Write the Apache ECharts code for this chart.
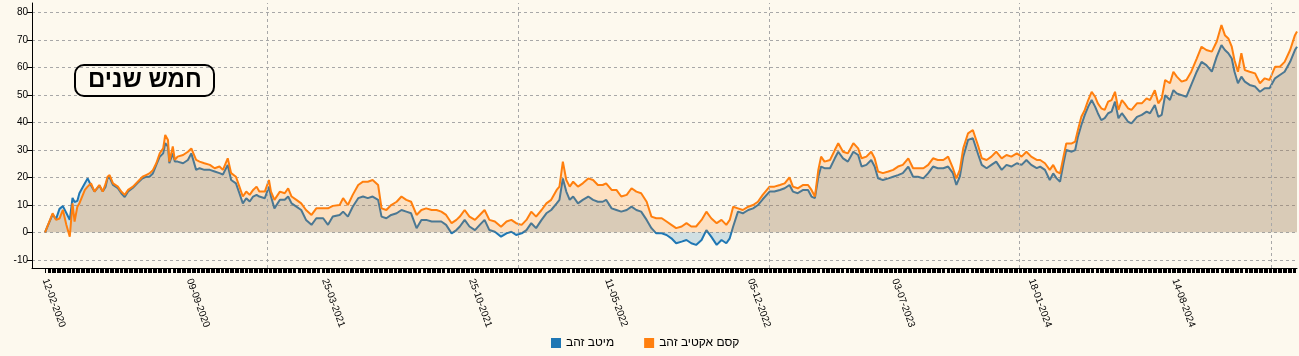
<!DOCTYPE html>
<html>
<head>
<meta charset="utf-8">
<script src="https://cdn.jsdelivr.net/npm/echarts@6/dist/echarts.min.js"></script>
<style>
html,body{margin:0;padding:0;background:#fdf9ee;}
#c{width:1299px;height:356px;}
</style>
</head>
<body>
<div id="c"></div>
<script>
// ---- data ----
const startDate = [2020, 2, 12]; // 12-02-2020
const dayOffsets = [
0,11,16,21,26,31,36,40,43,47,
50,58,62,67,72,79,84,88,91,94,
99,106,111,116,121,128,135,142,147,152,
157,162,167,172,175,179,181,186,189,193,
201,208,213,220,225,232,240,247,254,259,
266,271,278,283,288,293,298,303,308,312,
320,326,329,334,342,349,354,359,366,373,
380,388,395,405,412,419,429,434,441,448,
456,463,470,477,485,490,497,504,512,519,
526,533,541,548,555,563,570,577,584,592,
599,604,611,618,626,633,640,647,655,664,
672,679,686,694,701,708,715,723,730,737,
745,749,754,759,764,769,776,783,791,798,
805,812,817,825,832,839,847,854,861,868,
876,883,890,898,905,912,919,927,934,941,
948,956,963,970,978,985,992,997,1002,1009,
1016,1024,1031,1038,1045,1055,1062,1070,1077,1084,
1089,1096,1104,1111,1116,1121,1126,1130,1135,1143,
1150,1155,1162,1169,1177,1184,1189,1196,1203,1208,
1213,1220,1228,1235,1242,1249,1257,1264,1271,1279,
1286,1293,1300,1308,1315,1322,1327,1332,1337,1344,
1351,1359,1364,1371,1378,1385,1393,1400,1407,1415,
1422,1429,1436,1444,1449,1456,1463,1468,1473,1478,
1483,1487,1495,1500,1504,1509,1514,1519,1524,1529,
1533,1538,1543,1548,1553,1558,1563,1568,1572,1577,
1582,1590,1597,1604,1609,1616,1621,1626,1631,1638,
1643,1648,1655,1662,1669,1677,1684,1691,1699,1706,
1713,1718,1723,1728,1732,1737,1742,1747,1754,1762,
1769,1776,1783,1791,1798,1805,1813,1820,1823
];
const kesemValues = [
0,6.9,4.5,5.0,8.1,2.7,-1.6,10.5,3.9,9.3,
10.5,15.4,16.6,17.8,14.8,17.2,14.8,17.5,20.2,20.8,
17.8,16.6,14.8,13.6,15.4,16.6,18.4,20.2,20.8,21.4,
22.6,25.1,28.7,30.5,35.4,33.6,25.7,31.2,26.3,27.5,
28.1,29.3,30.5,26.3,25.7,25.1,24.5,23.3,23.9,22.7,
26.9,21.5,20.2,16.6,13.0,14.8,13.6,15.4,16.6,14.8,
14.8,19.0,14.8,11.8,14.8,14.2,16.0,13.0,11.8,10.5,
8.1,6.3,8.7,8.7,8.7,9.6,9.9,12.4,9.9,13.6,
17.2,18.4,18.4,19.0,17.2,8.7,8.1,9.9,11.1,13.0,
11.8,11.1,6.3,8.1,8.7,8.1,8.1,7.5,6.3,3.3,
4.5,5.7,8.1,5.7,4.5,6.3,8.1,4.5,3.9,2.0,
3.9,4.5,3.3,2.7,4.5,7.5,5.7,8.1,10.5,11.8,
15.4,16.6,25.7,19.0,16.6,18.4,16.6,17.8,19.6,19.0,
17.2,17.2,17.8,15.4,15.4,13.0,13.6,16.0,14.8,14.2,
11.1,5.7,5.1,5.1,3.9,2.7,1.5,2.1,3.3,2.1,
2.1,4.5,7.5,5.1,3.3,4.5,2.7,4.5,9.3,8.7,
8.1,9.3,9.9,11.1,13.6,16.6,16.6,17.2,17.8,20.0,
16.6,16.0,17.2,17.2,15.4,13.0,22.7,27.5,25.7,26.3,
29.9,32.4,29.3,28.7,32.4,30.5,26.9,27.5,29.3,26.9,
22.1,21.5,22.1,22.7,23.9,24.5,26.9,23.3,23.3,23.3,
24.5,26.9,26.3,26.3,27.5,23.3,19.6,22.7,30.5,36.0,
37.2,31.2,26.9,26.3,27.5,29.3,26.9,28.1,27.5,28.7,
27.5,29.3,27.5,26.3,26.3,25.1,22.7,24.5,22.1,21.4,
27.5,32.3,32.3,33.0,37.2,42.0,44.5,48.1,51.1,49.3,
46.9,45.1,44.5,47.5,48.1,51.1,44.5,48.1,46.9,45.1,
44.5,46.9,46.9,48.7,48.1,51.7,46.9,48.7,55.4,54.2,
58.4,56.6,54.8,55.4,58.4,63.2,67.5,66.3,65.7,69.3,
75.4,71.7,70.5,67.5,62.6,58.4,65.1,59.0,58.4,57.8,
54.2,56.0,55.4,60.2,60.2,62.0,66.3,71.7,73.0
];
const meitavValues = [
0,6.5,4.8,8.5,9.5,7.0,4.5,12.5,11.0,11.4,
14.2,17.8,19.6,17.0,14.8,17.0,14.8,16.5,19.6,20.0,
17.2,16.0,14.2,12.8,14.8,16.2,18.0,19.6,20.2,20.2,
21.4,24.5,27.5,28.7,32.4,31.2,25.1,28.7,25.7,25.7,
25.1,26.3,28.7,22.7,23.3,22.7,22.7,22.1,21.5,21.0,
24.5,19.0,17.8,14.2,10.5,12.4,11.2,13.0,13.6,13.0,
12.4,16.6,13.0,8.7,11.8,11.8,13.0,10.5,9.3,8.1,
4.5,2.7,5.1,5.1,2.7,5.7,6.3,7.5,5.7,9.3,
12.4,13.0,12.4,13.0,11.8,5.7,5.1,6.3,6.9,8.1,
7.5,6.9,1.5,4.5,4.5,3.9,3.9,3.9,2.7,-0.4,
0.8,2.1,4.5,2.1,0.8,2.7,4.5,0.8,0.2,-1.6,
-0.4,0.2,-1.0,-0.4,0.8,3.3,1.5,4.5,6.9,8.1,
10.5,11.8,19.6,14.8,11.8,13.0,10.5,11.8,13.0,11.8,
11.1,11.1,11.8,8.7,8.1,7.5,8.1,9.3,8.1,7.5,
4.5,1.5,-0.4,-0.4,-1.0,-2.2,-4.0,-3.4,-2.8,-4.0,
-4.6,-2.8,0.8,-1.6,-4.6,-2.8,-4.0,-2.2,2.1,7.5,
6.9,8.1,8.7,9.9,12.0,14.8,14.8,15.4,16.0,17.2,
14.8,14.2,15.4,15.4,13.0,12.4,20.2,23.9,23.3,23.3,
26.9,29.3,26.9,25.7,29.3,28.1,23.9,24.5,26.3,23.9,
19.6,19.0,19.6,20.2,20.8,21.5,23.9,20.2,20.2,19.6,
21.5,23.9,23.3,23.3,23.9,21.5,17.2,20.2,27.5,33.6,
34.2,28.1,24.5,23.3,24.5,25.7,22.7,24.5,23.9,25.1,
24.5,26.3,24.5,23.3,23.9,22.7,19.0,21.4,19.6,18.4,
25.1,29.9,29.3,29.9,34.8,39.0,42.7,45.7,48.1,45.7,
43.3,40.8,41.5,43.3,43.9,47.5,41.5,43.3,42.0,40.2,
39.6,42.0,42.7,43.9,43.3,46.3,42.0,42.7,49.9,48.1,
51.7,50.5,49.9,49.3,53.6,58.4,62.0,60.8,58.4,63.8,
68.1,66.3,65.1,63.2,58.4,54.2,56.6,54.8,53.6,53.0,
51.1,52.4,52.4,56.0,57.2,58.4,62.0,66.3,67.5
];
const tickLabels = ['12-02-2020','09-09-2020','25-03-2021','25-10-2021','11-05-2022','05-12-2022','03-07-2023','18-01-2024','14-08-2024'];
const yearLines = ['01-01-2021','01-01-2022','01-01-2023','01-01-2024','01-01-2025'];
const yTicks = [-10,0,10,20,30,40,50,60,70,80];
const seriesNames = ['מיטב זהב','קסם אקטיב זהב'];
const titleText = 'חמש שנים';

// ---- helpers ----
const FONT = "'Liberation Sans', Arial, sans-serif";
function dmy(s){ const p = s.split('-'); return new Date(+p[2], +p[1]-1, +p[0]).getTime(); }
function dayTs(d){ return new Date(startDate[0], startDate[1]-1, startDate[2]+d).getTime(); }
const pad = n => (n < 10 ? '0' : '') + n;
function fmt(ts){ const d = new Date(ts); return pad(d.getDate()) + '-' + pad(d.getMonth()+1) + '-' + d.getFullYear(); }
const firstDay = dayOffsets[0], lastDay = dayOffsets[dayOffsets.length-1];
const axisMin = dayTs(firstDay - 19), axisMax = dayTs(lastDay);
// one axis tick per trading day (Sun-Thu)
const tradingDays = [];
for (let d = firstDay; d <= lastDay; d++) {
  const wd = new Date(dayTs(d)).getDay();
  if (wd !== 5 && wd !== 6) tradingDays.push(dayTs(d));
}
const pairs = vals => dayOffsets.map((d, i) => [dayTs(d), vals[i]]);
const gridStyle = {type: [3, 3], color: '#a8a8a8', width: 1};

const chart = echarts.init(document.getElementById('c'), null, {renderer: 'canvas'});
chart.setOption({
  animation: false,
  backgroundColor: '#fdf9ee',
  textStyle: {fontFamily: FONT},
  title: {
    text: titleText, left: 75, top: 65, padding: [3, 13],
    borderColor: '#000', borderWidth: 2, borderRadius: 9,
    textStyle: {fontSize: 24, fontWeight: 'bold', color: '#000', fontFamily: FONT, lineHeight: 25}
  },
  legend: {
    data: seriesNames, left: 551, top: 337, padding: 0, icon: 'rect',
    itemWidth: 10, itemHeight: 10, itemGap: 30, selectedMode: false,
    textStyle: {fontSize: 12, color: '#000', fontFamily: FONT}
  },
  grid: {left: 32, right: 2, top: 3, bottom: 88, containLabel: false},
  xAxis: {
    type: 'value', min: axisMin, max: axisMax, scale: true,
    axisLine: {show: true, onZero: false, lineStyle: {color: '#000', width: 1}},
    axisTick: {show: true, length: 5, customValues: tradingDays, lineStyle: {color: '#000', width: 1}},
    axisLabel: {
      customValues: tickLabels.map(dmy), formatter: v => fmt(v),
      rotate: -70, fontSize: 10, color: '#000', margin: 11, hideOverlap: false, fontFamily: FONT
    },
    splitLine: {show: false}
  },
  yAxis: {
    type: 'value', min: -13, max: 83.4,
    axisLine: {show: true, onZero: false, lineStyle: {color: '#000', width: 1}},
    axisTick: {show: true, length: 5, customValues: yTicks, lineStyle: {color: '#000'}},
    axisLabel: {customValues: yTicks, fontSize: 10, color: '#000', margin: 4, fontFamily: FONT},
    splitLine: {show: true, lineStyle: gridStyle}
  },
  series: [
    {
      name: seriesNames[0], type: 'line', data: pairs(meitavValues), z: 1,
      showSymbol: false, symbol: 'none',
      lineStyle: {width: 2, color: '#1f77b4'}, itemStyle: {color: '#1f77b4'},
      areaStyle: {color: '#1f77b4', opacity: 0.2},
      markLine: {
        silent: true, symbol: 'none', label: {show: false},
        lineStyle: gridStyle,
        data: yearLines.map(s => ({xAxis: dmy(s)}))
      }
    },
    {
      name: seriesNames[1], type: 'line', data: pairs(kesemValues), z: 2,
      showSymbol: false, symbol: 'none',
      lineStyle: {width: 2, color: '#ff7f0e'}, itemStyle: {color: '#ff7f0e'},
      areaStyle: {color: '#ff7f0e', opacity: 0.2}
    }
  ]
});
</script>
</body>
</html>
